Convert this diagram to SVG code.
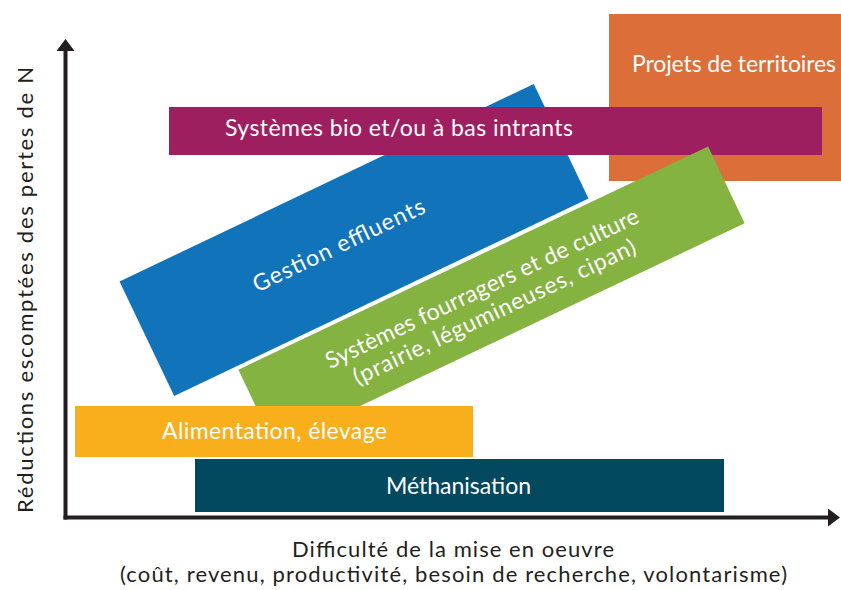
<svg xmlns="http://www.w3.org/2000/svg" width="841" height="590" viewBox="0 0 841 590">
  <style>
    text { font-family: Lato, "Noto Sans", "Liberation Sans", sans-serif; }
    .lbl { fill: #ffffff; font-size: 23px; }
    .axt { fill: #231f20; font-size: 22px; }
    .axis { stroke: #231f20; stroke-width: 4; fill: none; }
  </style>
  <defs>
    <marker id="arr" viewBox="0 0 12 18" refX="1" refY="9" markerWidth="12" markerHeight="18" markerUnits="userSpaceOnUse" orient="auto">
      <path d="M0,0 L12,9 L0,18 Z" fill="#231f20"/>
    </marker>
  </defs>
  <rect width="841" height="590" fill="#ffffff"/>

  <g id="projets-territoires">
    <rect x="609" y="14" width="232" height="167" fill="#dc6e39"/>
    <text class="lbl" x="632" y="72" textLength="204">Projets de territoires</text>
  </g>

  <g id="gestion-effluents" transform="translate(354,240) rotate(-25.5)">
    <rect x="-229.5" y="-63.5" width="459" height="127" fill="#1174bb"/>
    <text class="lbl" x="-16" y="6" text-anchor="middle" font-size="25" textLength="188">Gestion effluents</text>
  </g>

  <g id="systemes-bio">
    <rect x="169" y="107" width="653" height="48" fill="#9e1f5f"/>
    <text class="lbl" x="225" y="136" textLength="348">Systèmes bio et/ou à bas intrants</text>
  </g>

  <g id="systemes-fourragers" transform="translate(491.5,296.5) rotate(-25.4)">
    <rect x="-260" y="-42.5" width="520" height="85" fill="#84b341"/>
    <text class="lbl" x="-5" y="-3.5" text-anchor="middle" textLength="344">Systèmes fourragers et de culture</text>
    <text class="lbl" x="-4" y="23" text-anchor="middle" textLength="310">(prairie, légumineuses, cipan)</text>
  </g>

  <g id="alimentation-elevage">
    <rect x="75" y="406" width="398" height="51" fill="#f9ae1b"/>
    <text class="lbl" x="162" y="439" textLength="225">Alimentation, élevage</text>
  </g>

  <g id="methanisation">
    <rect x="195" y="459" width="529" height="53" fill="#02485f"/>
    <text class="lbl" x="386" y="494" textLength="145">Méthanisation</text>
  </g>

  <g id="connectors">
    <line class="axis" x1="65.5" y1="519.5" x2="65.5" y2="50" marker-end="url(#arr)"/>
    <line class="axis" x1="63.5" y1="517.5" x2="829" y2="517.5" marker-end="url(#arr)"/>
  </g>

  <g id="axis-labels">
    <text class="axt" transform="translate(33,290) rotate(-90)" text-anchor="middle" font-size="26" textLength="446">Réductions escomptées des pertes de N</text>
    <text class="axt" x="292" y="557" textLength="322">Difficulté de la mise en oeuvre</text>
    <text class="axt" x="120" y="582" textLength="667">(coût, revenu, productivité, besoin de recherche, volontarisme)</text>
  </g>
</svg>
